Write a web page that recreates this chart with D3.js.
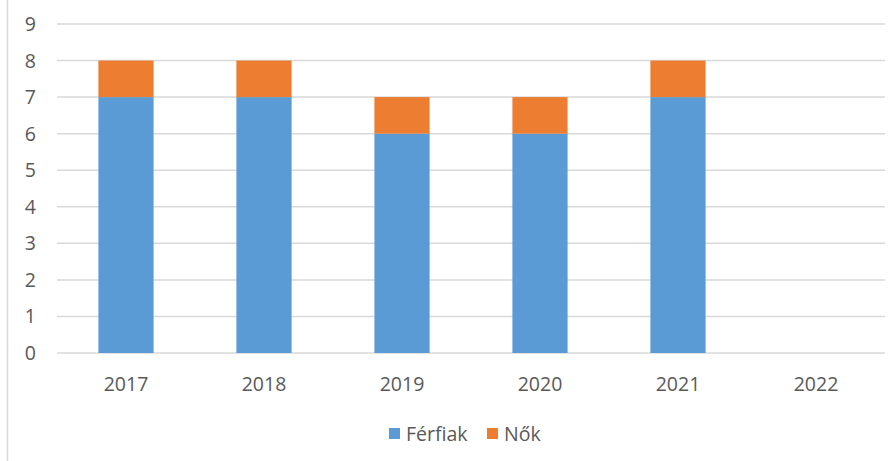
<!DOCTYPE html>
<html>
<head>
<meta charset="utf-8">
<script src="https://cdn.jsdelivr.net/npm/d3@7"></script>
<style>
  body { margin: 0; background: #fff; }
  svg { display: block; font-family: "Open Sans", "Noto Sans", sans-serif; }
</style>
</head>
<body>
<svg id="chart" width="896" height="461"></svg>
<script>
// adatok
const years = ["2017", "2018", "2019", "2020", "2021", "2022"];
const ferfiak = [7, 7, 6, 6, 7, 0];
const nok = [1, 1, 1, 1, 1, 0];
const yTicks = [0, 1, 2, 3, 4, 5, 6, 7, 8, 9];
const seriesNames = ["Férfiak", "Nők"];
const colors = ["#5B9BD5", "#ED7D31"];

const svg = d3.select("#chart");
const W = 896, H = 461;
const plotLeft = 57, plotRight = 885, plotTop = 24, plotBottom = 353;
const fontSize = 19.5;

// bal oldali keret
svg.append("line")
  .attr("x1", 7.5).attr("x2", 7.5)
  .attr("y1", 0).attr("y2", H)
  .attr("stroke", "#d9d9d9").attr("stroke-width", 1.5);

const x = d3.scaleBand().domain(years).range([plotLeft, plotRight]).padding(0);
const y = d3.scaleLinear().domain([0, 9]).range([plotBottom, plotTop]);

// rácsvonalak
svg.append("g").selectAll("line")
  .data(yTicks)
  .join("line")
  .attr("x1", plotLeft).attr("x2", plotRight)
  .attr("y1", d => y(d)).attr("y2", d => y(d))
  .attr("stroke", "#d9d9d9").attr("stroke-width", 1.5);

// y feliratok
svg.append("g").selectAll("text")
  .data(yTicks)
  .join("text")
  .attr("x", 36).attr("y", d => y(d))
  .attr("dy", "0.36em")
  .attr("text-anchor", "end")
  .attr("fill", "#595959")
  .attr("font-size", fontSize)
  .text(d => d);

// halmozott oszlopok
const rows = years.map((yr, i) => ({ year: yr, "Férfiak": ferfiak[i], "Nők": nok[i] }));
const stack = d3.stack().keys(seriesNames)(rows);
const barW = x.bandwidth() * 0.4;

svg.append("g").selectAll("g")
  .data(stack)
  .join("g")
  .attr("fill", (d, i) => colors[i])
  .selectAll("rect")
  .data(d => d)
  .join("rect")
  .attr("x", d => x(d.data.year) + (x.bandwidth() - barW) / 2)
  .attr("y", d => y(d[1]))
  .attr("width", barW)
  .attr("height", d => y(d[0]) - y(d[1]));

// x feliratok
svg.append("g").selectAll("text")
  .data(years)
  .join("text")
  .attr("x", d => x(d) + x.bandwidth() / 2)
  .attr("y", 391)
  .attr("text-anchor", "middle")
  .attr("fill", "#595959")
  .attr("font-size", fontSize)
  .text(d => d);

// jelmagyarázat
const legendX = [389, 487];
const lg = svg.append("g").selectAll("g")
  .data(seriesNames)
  .join("g")
  .attr("transform", (d, i) => `translate(${legendX[i]},433.5)`);
lg.append("rect")
  .attr("x", 0).attr("y", -5.5)
  .attr("width", 11).attr("height", 11)
  .attr("fill", (d, i) => colors[i]);
lg.append("text")
  .attr("x", 17).attr("y", 0)
  .attr("dy", "0.36em")
  .attr("fill", "#595959")
  .attr("font-size", fontSize)
  .text(d => d);
</script>
</body>
</html>
